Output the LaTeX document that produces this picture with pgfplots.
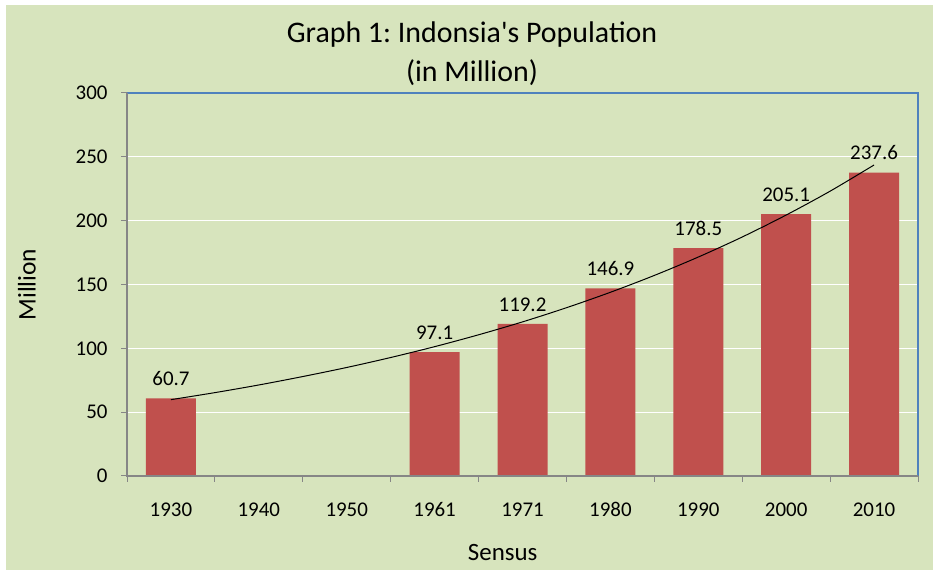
\documentclass[border=0pt]{standalone}
\usepackage{pgfplots}
\pgfplotsset{compat=1.18}
\usepackage{fontspec}
\setmainfont{Carlito}
\definecolor{bg}{RGB}{215,228,189}
\definecolor{barred}{RGB}{192,80,77}
\definecolor{axblue}{RGB}{79,129,189}
\definecolor{axgray}{RGB}{134,134,134}
\begin{document}
\frenchspacing
\begin{tikzpicture}[x=1bp,y=1bp]
\fill[white] (0,0) rectangle (933,570);
\fill[bg] (6,0) rectangle (933,565);
\node[font=\fontsize{30}{39}\selectfont, align=center] at (472,516) {Graph 1: Indonsia\textquotesingle s Population\\(in Million)};
\begin{axis}[
  at={(127bp,94bp)}, anchor=south west,
  width=791bp, height=383bp, scale only axis,
  xmin=0.5, xmax=9.5, ymin=0, ymax=300,
  ytick={0,50,...,300},
  xtick={1,...,9},
  xticklabels={1930,1940,1950,1961,1971,1980,1990,2000,2010},
  minor xtick={0.5,1.5,...,9.5},
  major x tick style={draw=none},
  minor x tick style={draw=axgray, line width=1bp},
  y tick style={draw=axgray, line width=1bp},
  tick align=outside, tick pos=left,
  major tick length=6bp, minor tick length=6bp,
  axis line style={draw=none},
  ymajorgrids, grid style={draw=white, line width=1.2bp},
  ticklabel style={font=\fontsize{21}{24}\selectfont},
  /pgf/number format/assume math mode=true,
  yticklabel style={xshift=-10bp},
  xticklabel style={yshift=-17bp},
  ylabel={Million}, ylabel style={font=\fontsize{25.5}{28}\selectfont, at={(-100bp,0.5)}, anchor=center},
  xlabel={Sensus}, xlabel style={font=\fontsize{25}{28}\selectfont, at={(0.475,-77bp)}, anchor=center},
  axis background/.style={fill=bg},
  clip=false,
]
\addplot[ybar, bar width=50bp, fill=barred, draw=none,
  nodes near coords, nodes near coords style={font=\fontsize{21}{24}\selectfont, text=black, anchor=south, yshift=9bp},
  point meta=explicit symbolic]
  coordinates {(1,60.7)[60.7] (4,97.1)[97.1] (5,119.2)[119.2] (6,146.9)[146.9] (7,178.5)[178.5] (8,205.1)[205.1] (9,237.6)[237.6]};
\addplot[black, line width=1bp, smooth, no marks] coordinates {
 (1,59.8) (1.5,65.3) (2,71.3) (2.5,77.9) (3,85.0) (3.5,92.8) (4,101.3) (4.5,110.6) (5,120.7) (5.5,131.8) (6,143.9) (6.5,157.1) (7,171.5) (7.5,187.2) (8,204.4) (8.5,223.1) (9,243.6)};
\draw[axblue, line width=1.2bp] (rel axis cs:0,1) -- (rel axis cs:1,1) -- (rel axis cs:1,0);
\draw[axgray, line width=1.5bp] (rel axis cs:0,1) -- (rel axis cs:0,0) -- (rel axis cs:1,0);
\end{axis}
\end{tikzpicture}
\end{document}
